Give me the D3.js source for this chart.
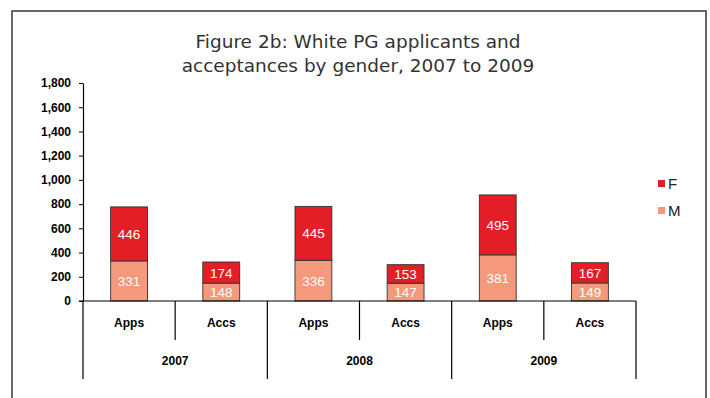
<!DOCTYPE html>
<html><head><meta charset="utf-8">
<script src="https://cdn.jsdelivr.net/npm/d3@7/dist/d3.min.js"></script>
<style>body{margin:0;background:#fff}svg{display:block}</style>
</head><body>
<script>
const years = ["2007","2008","2009"];
const groups = ["Apps","Accs"];
const categories = ["Apps 2007","Accs 2007","Apps 2008","Accs 2008","Apps 2009","Accs 2009"];
const maleValues = [331,148,336,147,381,149];
const femaleValues = [446,174,445,153,495,167];
const seriesNames = ["F","M"];
const yTicks = [0,200,400,600,800,1000,1200,1400,1600,1800];
const titleLines = ["Figure 2b: White PG applicants and","acceptances by gender, 2007 to 2009"];

const W = 710, H = 398;
const svg = d3.select("body").append("svg").attr("width", W).attr("height", H);
svg.append("rect").attr("x",12).attr("y",11).attr("width",694).attr("height",420)
  .attr("fill","#fff").attr("stroke","#444").attr("stroke-width",1.6);

const x0 = 83, x1 = 636, yBase = 301, yTop = 83;
const x = d3.scaleBand().domain(categories).range([x0,x1]).paddingInner(0.6).paddingOuter(0.3);
const xc = d3.scaleBand().domain(categories).range([x0,x1]);
const y = d3.scaleLinear().domain([0,1800]).range([yBase,yTop]);

// title
svg.append("g").selectAll("text").data(titleLines).join("text")
  .attr("x",358).attr("y",(d,i)=>48+i*24).attr("text-anchor","middle")
  .attr("font-family","DejaVu Sans, Verdana, sans-serif").attr("font-size",18.5)
  .attr("fill","#333").text(d=>d);

// y axis
const ya = svg.append("g").attr("transform",`translate(${x0},0)`)
  .call(d3.axisLeft(y).tickValues(yTicks).tickFormat(d3.format(",")).tickSize(4).tickSizeOuter(0));
ya.select(".domain").attr("stroke","#000").attr("stroke-width",1.2);
ya.selectAll(".tick line").attr("stroke","#000");
ya.selectAll("text").attr("font-family","Liberation Sans, Arial, sans-serif")
  .attr("font-weight","bold").attr("font-size",12).attr("fill","#000").attr("x",-12);

// bars
const stackData = categories.map((c,i)=>({cat:c, M:maleValues[i], F:femaleValues[i]}));
const stack = d3.stack().keys(["M","F"])(stackData);
const colors = {M:"#F4997B", F:"#E31E26"};
const g = svg.append("g");
stack.forEach(s=>{
  g.selectAll(null).data(s).join("rect")
    .attr("x",d=>x(d.data.cat)).attr("width",x.bandwidth())
    .attr("y",d=>y(d[1])).attr("height",d=>y(d[0])-y(d[1]))
    .attr("fill",colors[s.key]).attr("stroke","#333").attr("stroke-width",0.9);
  g.selectAll(null).data(s).join("text")
    .attr("x",d=>x(d.data.cat)+x.bandwidth()/2)
    .attr("y",d=>(y(d[0])+y(d[1]))/2+5)
    .attr("text-anchor","middle").attr("fill","#fff")
    .attr("font-family","Liberation Sans, Arial, sans-serif").attr("font-size",13.5)
    .text(d=>d.data[s.key]);
});

// category axis
const ax = svg.append("g");
ax.append("line").attr("x1",x0-4).attr("x2",x1).attr("y1",yBase).attr("y2",yBase).attr("stroke","#000").attr("stroke-width",1.2);
const bounds = categories.map((c,i)=>xc(c)).concat([x1]);
bounds.forEach((b,i)=>{
  const isYear = i%2===0;
  ax.append("line").attr("x1",b).attr("x2",b).attr("y1",yBase).attr("y2",isYear?379:340)
    .attr("stroke","#000").attr("stroke-width",1.2);
});
ax.selectAll(null).data(categories).join("text")
  .attr("x",d=>xc(d)+xc.bandwidth()/2).attr("y",327).attr("text-anchor","middle")
  .attr("font-family","Liberation Sans, Arial, sans-serif").attr("font-weight","bold")
  .attr("font-size",12).text((d,i)=>groups[i%2]);
ax.selectAll(null).data(years).join("text")
  .attr("x",(d,i)=>xc(categories[i*2])+xc.bandwidth()).attr("y",365).attr("text-anchor","middle")
  .attr("font-family","Liberation Sans, Arial, sans-serif").attr("font-weight","bold")
  .attr("font-size",12).text(d=>d);

// legend
const lg = svg.append("g");
seriesNames.forEach((n,i)=>{
  lg.append("rect").attr("x",658).attr("y",180+i*27).attr("width",7).attr("height",7).attr("fill",colors[n]);
  lg.append("text").attr("x",668).attr("y",189+i*27)
    .attr("font-family","Liberation Sans, Arial, sans-serif").attr("font-size",15).attr("fill","#222").text(n);
});
</script>
</body></html>
